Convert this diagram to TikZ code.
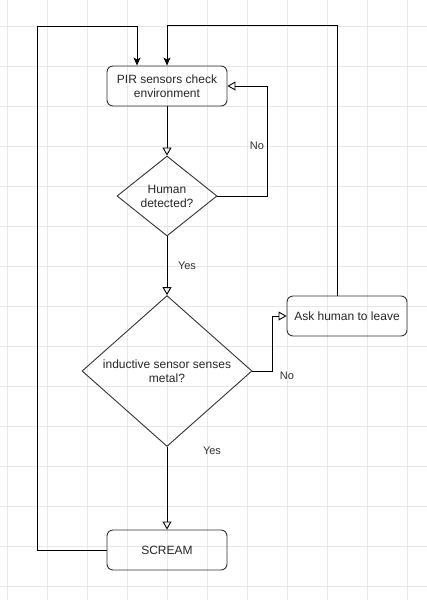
\documentclass[tikz,border=0pt]{standalone}
\usepackage{fontspec}
\setmainfont{Liberation Sans}
\usetikzlibrary{arrows.meta,shapes.geometric,positioning}

\begin{document}
\begin{tikzpicture}[x=1pt,y=-1pt,font=\fontsize{12}{14}\selectfont]
\tikzset{process/.style ={draw=black!80, rounded corners=6pt, minimum width=120pt, minimum height=40pt, align=center, inner sep=2pt, line width=0.9pt, text=black!85}}
\tikzset{decision/.style ={draw=black!80, diamond, align=center, inner sep=0pt, line width=0.9pt, text=black!85}}
\tikzset{flow/.style ={draw, line width=0.9pt, -{Triangle[open,length=8pt,width=9pt]}}}
\tikzset{back/.style ={draw, line width=0.9pt, -{Stealth[length=8pt,width=7pt,inset=2pt]}}}
\tikzset{lbl/.style ={font=\fontsize{11}{13}\selectfont, text=black!80}}
\tikzset{gridline/.style ={draw=black!9, line width=0.7pt}}
\useasboundingbox (0,0) rectangle (427,600);
\fill[white] (0,0) rectangle (427,600);
% background grid
\foreach \gx in {7,47,...,407} \draw[gridline] (\gx,0) -- (\gx,600);
\foreach \gy in {26,66,...,586} \draw[gridline] (0,\gy) -- (427,\gy);
    \node[process] (pir) at (167,86) {PIR sensors check\\environment};
    \node[decision, minimum width=100pt, minimum height=80pt] (human) at (167,196) {Human\\detected?};
    \node[decision, minimum width=170pt, minimum height=150pt] (metal) at (167,371) {inductive sensor senses\\metal?};
    \node[process] (ask) at (347,316) {Ask human to leave};
    \node[process] (scream) at (167,550) {SCREAM};
% labels
    \node[lbl] (no1) at (257,146) {No};
    \node[lbl] (yes1) at (187,266) {Yes};
    \node[lbl] (no2) at (287,376) {No};
    \node[lbl] (yes2) at (212,451) {Yes};
    \coordinate (topleft) at (37,26);
% connectors
    \draw[flow] (pir) -- (human);
    \draw[flow] (human.east) -- ++(50,0) |- (pir.east);
    \draw[flow] (human) -- (metal);
    \draw[flow] (metal.east) -- ++(20,0) |- (ask.west);
    \draw[flow] (metal) -- (scream);
    \draw[back] ([xshift=-10pt]ask.north) -- ++(0,-270) -| (pir.north);
    \draw[back] (scream.west) -| (topleft) -| ([xshift=-30pt]pir.north);
\end{tikzpicture}
\end{document}
